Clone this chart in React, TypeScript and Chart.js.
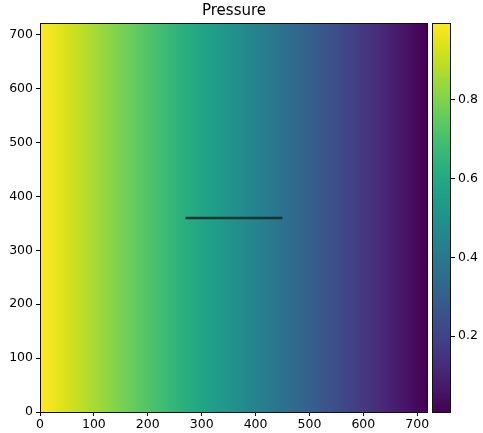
import React, { useEffect, useRef } from 'react';
import { Chart, registerables } from 'chart.js';

Chart.register(...registerables);

// ---- data ----
const domainX = [0, 720];
const domainY = [0, 720];
const xTicks = [0, 100, 200, 300, 400, 500, 600, 700];
const yTicks = [0, 100, 200, 300, 400, 500, 600, 700];
const cbTicks = [0.2, 0.4, 0.6, 0.8];

// column centres (x) and the pressure read in each column
const xCenters = [
  5, 15, 25, 35, 45, 55, 65, 75, 85, 95, 105, 115, 125, 135, 145, 155, 165, 175,
  185, 195, 205, 215, 225, 235, 245, 255, 265, 275, 285, 295, 305, 315, 325, 335,
  345, 355, 365, 375, 385, 395, 405, 415, 425, 435, 445, 455, 465, 475, 485, 495,
  505, 515, 525, 535, 545, 555, 565, 575, 585, 595, 605, 615, 625, 635, 645, 655,
  665, 675, 685, 695, 705, 715,
];
const pressure = [
  0.993, 0.979, 0.965, 0.951, 0.938, 0.924, 0.910, 0.896, 0.882, 0.868, 0.854, 0.840,
  0.826, 0.813, 0.799, 0.785, 0.771, 0.757, 0.743, 0.729, 0.715, 0.701, 0.688, 0.674,
  0.660, 0.646, 0.632, 0.618, 0.604, 0.590, 0.576, 0.563, 0.549, 0.535, 0.521, 0.507,
  0.493, 0.479, 0.465, 0.451, 0.438, 0.424, 0.410, 0.396, 0.382, 0.368, 0.354, 0.340,
  0.326, 0.313, 0.299, 0.285, 0.271, 0.257, 0.243, 0.229, 0.215, 0.201, 0.188, 0.174,
  0.160, 0.146, 0.132, 0.118, 0.104, 0.090, 0.076, 0.063, 0.049, 0.035, 0.021, 0.007,
];

// fracture segment
const fractureX = [270, 450];
const fractureY = [360, 360];

// ---- styling ----
const FONT = 'DejaVu Sans';
const VIRIDIS = [
  '#440154', '#48186a', '#472d7b', '#424086', '#3b528b', '#33638d', '#2c728e', '#26828e',
  '#21918c', '#1fa088', '#28ae80', '#3fbc73', '#5ec962', '#84d44b', '#addc30', '#d8e219', '#fde725',
];

const hexToRgb = (h: string) => [
  parseInt(h.slice(1, 3), 16),
  parseInt(h.slice(3, 5), 16),
  parseInt(h.slice(5, 7), 16),
];

function viridis(t: number): string {
  const c = Math.max(0, Math.min(1, t)) * (VIRIDIS.length - 1);
  const i = Math.min(VIRIDIS.length - 2, Math.floor(c));
  const f = c - i;
  const a = hexToRgb(VIRIDIS[i]);
  const b = hexToRgb(VIRIDIS[i + 1]);
  const m = a.map((v, k) => Math.round(v + (b[k] - v) * f));
  return `rgb(${m[0]},${m[1]},${m[2]})`;
}

const vmin = Math.min(...pressure);
const vmax = Math.max(...pressure);
const norm = (v: number) => (v - vmin) / (vmax - vmin);

const heatmapPlugin = {
  id: 'heatmap',
  beforeDatasetsDraw(chart: any) {
    const { ctx, scales } = chart;
    const xs = scales.x;
    const ys = scales.y;
    const x0 = xs.getPixelForValue(domainX[0]);
    const x1 = xs.getPixelForValue(domainX[1]);
    const yTop = ys.getPixelForValue(domainY[1]);
    const yBot = ys.getPixelForValue(domainY[0]);
    const grad = ctx.createLinearGradient(x0, 0, x1, 0);
    xCenters.forEach((xc, i) => {
      const t = (xs.getPixelForValue(xc) - x0) / (x1 - x0);
      grad.addColorStop(t, viridis(norm(pressure[i])));
    });
    ctx.save();
    ctx.fillStyle = grad;
    ctx.fillRect(x0, yTop, x1 - x0, yBot - yTop);
    ctx.restore();
  },
  afterDraw(chart: any) {
    const { ctx, chartArea } = chart;
    ctx.save();
    ctx.strokeStyle = '#111';
    ctx.lineWidth = 1;
    ctx.strokeRect(
      Math.round(chartArea.left) + 0.5,
      Math.round(chartArea.top) - 0.5,
      Math.round(chartArea.right - chartArea.left) - 1,
      Math.round(chartArea.bottom - chartArea.top) + 1
    );
    ctx.restore();
  },
};

const colorbarPlugin = {
  id: 'colorbar',
  beforeDatasetsDraw(chart: any) {
    const { ctx, chartArea, scales } = chart;
    const ys = scales.y;
    const yTop = ys.getPixelForValue(vmax);
    const yBot = ys.getPixelForValue(vmin);
    const grad = ctx.createLinearGradient(0, yBot, 0, yTop);
    for (let k = 0; k < VIRIDIS.length; k++) {
      grad.addColorStop(k / (VIRIDIS.length - 1), VIRIDIS[k]);
    }
    ctx.save();
    ctx.fillStyle = grad;
    ctx.fillRect(chartArea.left, yTop, chartArea.right - chartArea.left, yBot - yTop);
    ctx.strokeStyle = '#111';
    ctx.lineWidth = 1;
    ctx.strokeRect(
      Math.round(chartArea.left) + 0.5,
      Math.round(yTop) - 0.5,
      Math.round(chartArea.right - chartArea.left) - 1,
      Math.round(yBot - yTop) + 1
    );
    ctx.restore();
  },
};

const tickFont = { family: FONT, size: 12.5 };

export default function App() {
  const mainRef = useRef<HTMLCanvasElement>(null);
  const cbRef = useRef<HTMLCanvasElement>(null);

  useEffect(() => {
    if (!mainRef.current || !cbRef.current) return;
    const main = new Chart(mainRef.current, {
      type: 'line',
      data: {
        datasets: [
          {
            data: fractureX.map((x, i) => ({ x, y: fractureY[i] })),
            borderColor: '#123633',
            borderWidth: 2.5,
            pointRadius: 0,
            fill: false,
          },
        ],
      },
      options: {
        animation: false,
        responsive: false,
        events: [],
        layout: { padding: { left: 0, right: 55, top: 0, bottom: 0 } },
        plugins: {
          legend: { display: false },
          tooltip: { enabled: false },
          title: {
            display: true,
            text: 'Pressure',
            fullSize: false,
            color: '#000',
            font: { family: FONT, size: 15, weight: 'normal' },
            padding: { top: 2, bottom: 4 },
          },
        },
        scales: {
          x: {
            type: 'linear',
            min: domainX[0],
            max: domainX[1],
            afterBuildTicks: (s: any) => {
              s.ticks = xTicks.map((v) => ({ value: v }));
            },
            afterFit: (s: any) => {
              s.height = 21;
            },
            ticks: { color: '#000', font: tickFont, maxRotation: 0, padding: 1, autoSkip: false },
            grid: { drawOnChartArea: false, drawTicks: true, tickLength: 4, color: '#000' },
            border: { display: false },
          },
          y: {
            type: 'linear',
            min: domainY[0],
            max: domainY[1],
            afterBuildTicks: (s: any) => {
              s.ticks = yTicks.map((v) => ({ value: v }));
            },
            afterFit: (s: any) => {
              s.width = 40;
            },
            ticks: { color: '#000', font: tickFont, padding: 3, autoSkip: false },
            grid: { drawOnChartArea: false, drawTicks: true, tickLength: 4, color: '#000' },
            border: { display: false },
          },
        },
      },
      plugins: [heatmapPlugin],
    } as any);

    const cb = new Chart(cbRef.current, {
      type: 'scatter',
      data: { datasets: [] },
      options: {
        animation: false,
        responsive: false,
        events: [],
        layout: { padding: { left: 12, right: 0, top: 24, bottom: 21 } },
        plugins: { legend: { display: false }, tooltip: { enabled: false } },
        scales: {
          x: { type: 'linear', display: false, min: 0, max: 1 },
          y: {
            type: 'linear',
            position: 'right',
            min: vmin,
            max: vmax,
            afterBuildTicks: (s: any) => {
              s.ticks = cbTicks.map((v) => ({ value: v }));
            },
            afterFit: (s: any) => {
              s.width = 32;
            },
            ticks: {
              color: '#000',
              font: tickFont,
              padding: 3,
              autoSkip: false,
              callback: (v: any) => Number(v).toFixed(1),
            },
            grid: { drawOnChartArea: false, drawTicks: true, tickLength: 4, color: '#000' },
            border: { display: false },
          },
        },
      },
      plugins: [colorbarPlugin],
    } as any);

    return () => {
      main.destroy();
      cb.destroy();
    };
  }, []);

  return (
    <div style={{ position: 'fixed', left: 0, top: 0, width: 483, height: 433, background: '#fff' }}>
      <canvas
        ref={mainRef}
        width={483}
        height={433}
        style={{ position: 'absolute', left: 0, top: 0, width: 483, height: 433 }}
      />
      <canvas
        ref={cbRef}
        width={63}
        height={433}
        style={{ position: 'absolute', left: 420, top: 0, width: 63, height: 433 }}
      />
    </div>
  );
}
